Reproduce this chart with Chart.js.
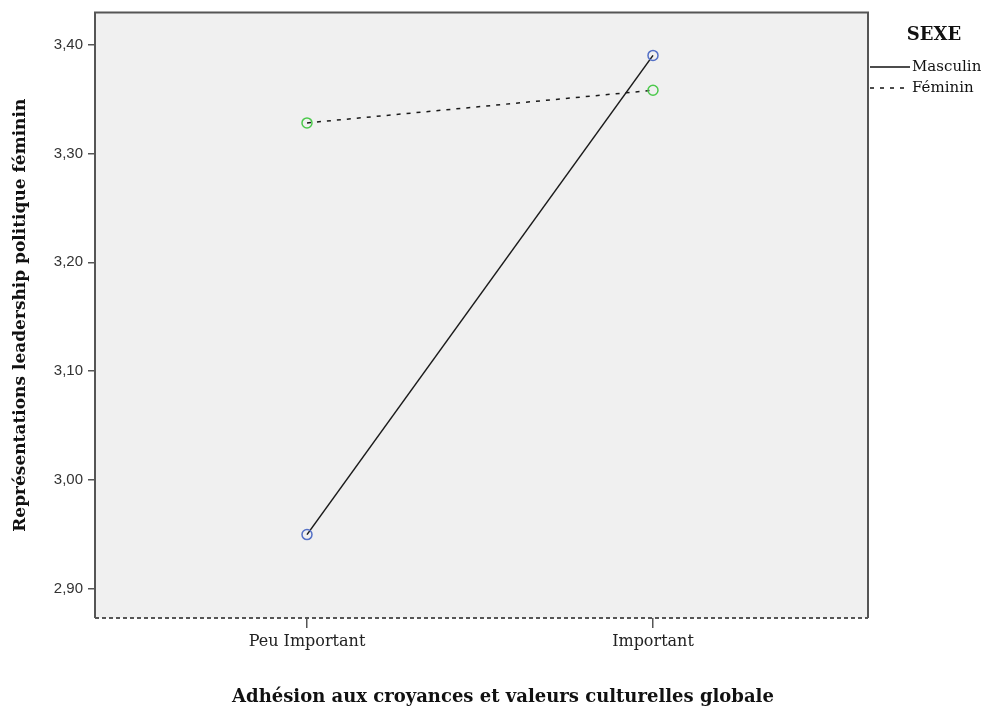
<!DOCTYPE html>
<html lang="fr">
  <head>
    <meta charset="UTF-8" />
    <title>Adhésion aux croyances et valeurs culturelles globale</title>
    <style>
      body {
        margin: 0;
        background: #ffffff;
      }
      .chart-container {
        width: 997px;
        height: 726px;
      }
    </style>
  </head>
  <body>
    <div class="chart-container">
      <canvas id="meansChart"></canvas>
    </div>
    <script src="https://cdn.jsdelivr.net/npm/chart.js"></script>
    <script>
      const categories = ["Peu Important", "Important"];
      const masculin = [2.95, 3.39];
      const feminin = [3.328, 3.358];
      const yTicks = [2.9, 3.0, 3.1, 3.2, 3.3, 3.4];
      const legendTitle = "SEXE";
      const xTitle = "Adhésion aux croyances et valeurs culturelles globale";

      const toPoints = (values) => values.map((v, i) => ({ x: i, y: v }));

      // cadre du graphique : trait plein sauf en bas (pointillé)
      const framePlugin = {
        id: "frame",
        beforeDatasetsDraw(chart) {
          const { ctx, chartArea: a } = chart;
          ctx.save();
          ctx.strokeStyle = "#555555";
          ctx.lineWidth = 2;
          ctx.beginPath();
          ctx.moveTo(a.left, a.bottom);
          ctx.lineTo(a.left, a.top);
          ctx.lineTo(a.right, a.top);
          ctx.lineTo(a.right, a.bottom);
          ctx.stroke();
          ctx.setLineDash([4, 3]);
          ctx.beginPath();
          ctx.moveTo(a.left, a.bottom);
          ctx.lineTo(a.right, a.bottom);
          ctx.stroke();
          ctx.restore();
        },
        beforeDraw(chart) {
          const { ctx, chartArea: a } = chart;
          ctx.save();
          ctx.fillStyle = "#f0f0f0";
          ctx.fillRect(a.left, a.top, a.right - a.left, a.bottom - a.top);
          ctx.restore();
        },
      };

      // légende à droite + titre de l'axe X (décalé comme dans SPSS)
      const sideLegend = {
        id: "sideLegend",
        afterDraw(chart) {
          const { ctx, chartArea: a } = chart;
          ctx.save();
          ctx.fillStyle = "#111";
          ctx.textBaseline = "middle";
          ctx.font = "bold 18px 'DejaVu Serif'";
          ctx.textAlign = "center";
          ctx.fillText(legendTitle, a.right + 66, 35);
          ctx.fillText(xTitle, 503, 697);
          ctx.textAlign = "left";
          ctx.font = "15px 'DejaVu Serif'";
          chart.data.datasets.forEach((ds, i) => {
            const y = 67 + i * 21;
            ctx.strokeStyle = "#111";
            ctx.lineWidth = 1.5;
            ctx.setLineDash(ds.borderDash || []);
            ctx.beginPath();
            ctx.moveTo(a.right + 2, y);
            ctx.lineTo(a.right + 42, y);
            ctx.stroke();
            ctx.fillText(ds.label, a.right + 44, y);
          });
          ctx.restore();
        },
      };

      const config = {
        type: "line",
        data: {
          datasets: [
            {
              label: "Masculin",
              data: toPoints(masculin),
              borderColor: "#1a1a1a",
              borderWidth: 1.5,
              pointBorderColor: "#5470c6",
              pointBackgroundColor: "rgba(0,0,0,0)",
              pointBorderWidth: 1.5,
              pointRadius: 5,
            },
            {
              label: "Féminin",
              data: toPoints(feminin),
              borderColor: "#1a1a1a",
              borderWidth: 1.5,
              borderDash: [4, 6],
              pointBorderColor: "#4cc94c",
              pointBackgroundColor: "rgba(0,0,0,0)",
              pointBorderWidth: 1.5,
              pointRadius: 5,
            },
          ],
        },
        options: {
          responsive: true,
          maintainAspectRatio: false,
          animation: false,
          layout: { padding: { top: 12, right: 129, left: 0, bottom: 0 } },
          plugins: {
            legend: { display: false },
            tooltip: { enabled: false },
          },
          scales: {
            x: {
              type: "linear",
              min: -0.6127,
              max: 1.6214,
              afterBuildTicks: (scale) => {
                scale.ticks = categories.map((c, i) => ({ value: i }));
              },
              afterFit: (scale) => {
                scale.height = 108;
              },
              border: { display: false },
              grid: {
                drawOnChartArea: false,
                drawTicks: true,
                tickLength: 10,
                color: "#555555",
                lineWidth: 1.5,
              },
              ticks: {
                padding: 4,
                color: "#222",
                font: { family: "DejaVu Serif", size: 16 },
                callback: (v) => categories[v],
              },
            },
            y: {
              min: 2.8734,
              max: 3.4294,
              afterBuildTicks: (scale) => {
                scale.ticks = yTicks.map((v) => ({ value: v }));
              },
              afterFit: (scale) => {
                scale.width = 95;
              },
              border: { display: false },
              grid: {
                drawOnChartArea: false,
                drawTicks: true,
                tickLength: 7,
                color: "#555555",
                lineWidth: 1.5,
              },
              ticks: {
                padding: 5,
                color: "#333",
                font: { family: "Liberation Sans", size: 15, lineHeight: 1 },
                callback: (v) => v.toFixed(2).replace(".", ","),
              },
              title: {
                display: true,
                text: "Représentations leadership politique féminin",
                color: "#111",
                font: { family: "DejaVu Serif", size: 17, weight: "bold" },
                padding: { top: 10, bottom: 0 },
              },
            },
          },
        },
        plugins: [framePlugin, sideLegend],
      };

      new Chart(document.getElementById("meansChart"), config);
    </script>
  </body>
</html>
